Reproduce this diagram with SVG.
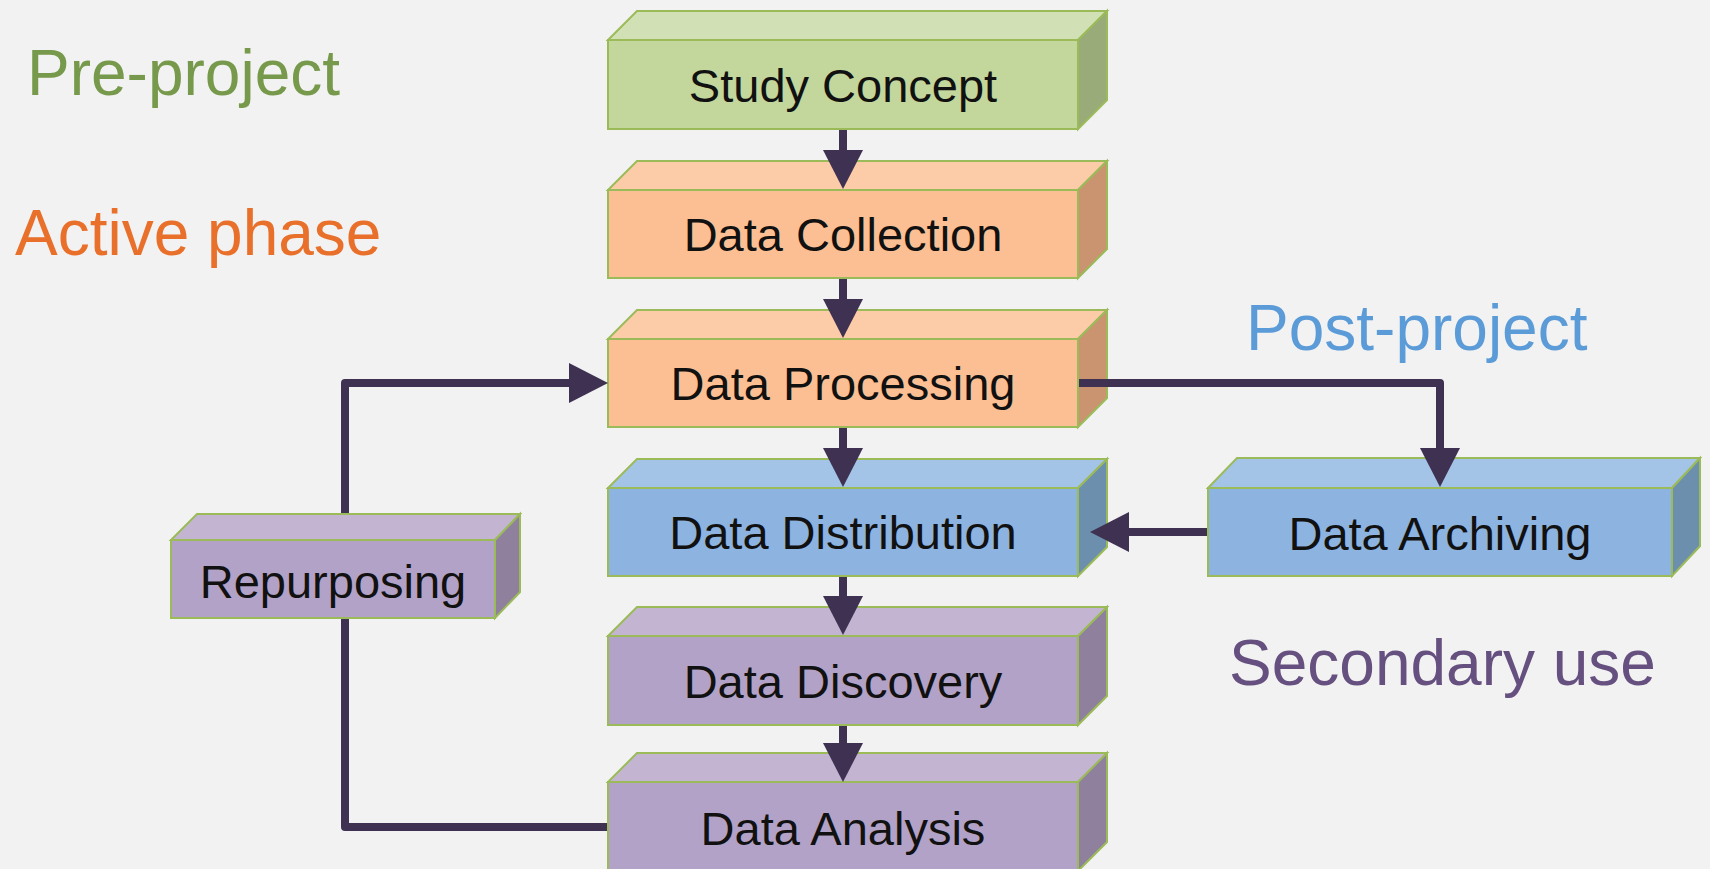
<svg xmlns="http://www.w3.org/2000/svg" width="1710" height="869" viewBox="0 0 1710 869">
<defs>
<style>
.front{stroke:#9bbb59;stroke-width:2}
.top{stroke:#9bbb59;stroke-width:2}
.side{stroke:#9bbb59;stroke-width:2}
.g .front{fill:#c3d69b}.g .top{fill:#d1e1b5}.g .side{fill:#9aab7a}
.o .front{fill:#fbbf93}.o .top{fill:#fccba8}.o .side{fill:#c9946f}
.b .front{fill:#8db3e0}.b .top{fill:#a3c4e6}.b .side{fill:#6d8fae}
.p .front{fill:#b3a2c7}.p .top{fill:#c3b5d2}.p .side{fill:#8f819e}
.lbl{font-family:"Liberation Sans",Arial,sans-serif;font-size:47px;fill:#111;text-anchor:middle}
.phase{font-family:"Liberation Sans",Arial,sans-serif;font-size:64px}
.conn{fill:none;stroke:#3f3151;stroke-width:8;stroke-linejoin:round}
</style>
<marker id="ah" markerUnits="userSpaceOnUse" markerWidth="40" markerHeight="40" refX="0" refY="20" orient="auto" viewBox="0 0 40 40">
<path d="M0,0 L39,20 L0,40 Z" fill="#3f3151"/>
</marker>
</defs>
<rect width="1710" height="869" fill="#f2f2f2"/>

<text class="phase" x="27" y="95" fill="#77994b">Pre-project</text>
<text class="phase" x="15" y="255" fill="#e9702b">Active phase</text>
<text class="phase" x="1246" y="350" fill="#5a9bd8">Post-project</text>
<text class="phase" x="1229" y="685" fill="#66507f">Secondary use</text>

<g id="study-concept" class="g">
<polygon class="top" points="608,40 637,11 1107,11 1078,40"/>
<polygon class="side" points="1078,40 1107,11 1107,100 1078,129"/>
<rect class="front" x="608" y="40" width="470" height="89"/>
<text class="lbl" x="843" y="102">Study Concept</text>
</g>

<g id="data-collection" class="o">
<polygon class="top" points="608,190 637,161 1107,161 1078,190"/>
<polygon class="side" points="1078,190 1107,161 1107,249 1078,278"/>
<rect class="front" x="608" y="190" width="470" height="88"/>
<text class="lbl" x="843" y="251">Data Collection</text>
</g>

<g id="data-processing" class="o">
<polygon class="top" points="608,339 637,310 1107,310 1078,339"/>
<polygon class="side" points="1078,339 1107,310 1107,398 1078,427"/>
<rect class="front" x="608" y="339" width="470" height="88"/>
<text class="lbl" x="843" y="400">Data Processing</text>
</g>

<g id="data-distribution" class="b">
<polygon class="top" points="608,488 637,459 1107,459 1078,488"/>
<polygon class="side" points="1078,488 1107,459 1107,547 1078,576"/>
<rect class="front" x="608" y="488" width="470" height="88"/>
<text class="lbl" x="843" y="549">Data Distribution</text>
</g>

<g id="data-discovery" class="p">
<polygon class="top" points="608,636 637,607 1107,607 1078,636"/>
<polygon class="side" points="1078,636 1107,607 1107,696 1078,725"/>
<rect class="front" x="608" y="636" width="470" height="89"/>
<text class="lbl" x="843" y="698">Data Discovery</text>
</g>

<g id="data-analysis" class="p">
<polygon class="top" points="608,782 637,753 1107,753 1078,782"/>
<polygon class="side" points="1078,782 1107,753 1107,842 1078,871"/>
<rect class="front" x="608" y="782" width="470" height="89"/>
<text class="lbl" x="843" y="845">Data Analysis</text>
</g>

<g id="data-archiving" class="b">
<polygon class="top" points="1208,488 1237,458 1700,458 1672,488"/>
<polygon class="side" points="1672,488 1700,458 1700,546 1672,576"/>
<rect class="front" x="1208" y="488" width="464" height="88"/>
<text class="lbl" x="1440" y="550">Data Archiving</text>
</g>

<g id="repurposing" class="p">
<polygon class="top" points="171,540 197,514 520,514 495,540"/>
<polygon class="side" points="495,540 520,514 520,592 495,618"/>
<rect class="front" x="171" y="540" width="324" height="78"/>
<text class="lbl" x="333" y="598">Repurposing</text>
</g>

<g id="connectors">
<path class="conn" d="M843,130 V150" marker-end="url(#ah)"/>
<path class="conn" d="M843,279 V299" marker-end="url(#ah)"/>
<path class="conn" d="M843,428 V448" marker-end="url(#ah)"/>
<path class="conn" d="M843,577 V596" marker-end="url(#ah)"/>
<path class="conn" d="M843,726 V743" marker-end="url(#ah)"/>
<path class="conn" d="M1079,383 H1440 V448" marker-end="url(#ah)"/>
<path class="conn" d="M1207,532 H1129" marker-end="url(#ah)"/>
<path class="conn" d="M607,827 H345 V619"/>
<path class="conn" d="M345,513 V383 H569" marker-end="url(#ah)"/>
</g>
</svg>
